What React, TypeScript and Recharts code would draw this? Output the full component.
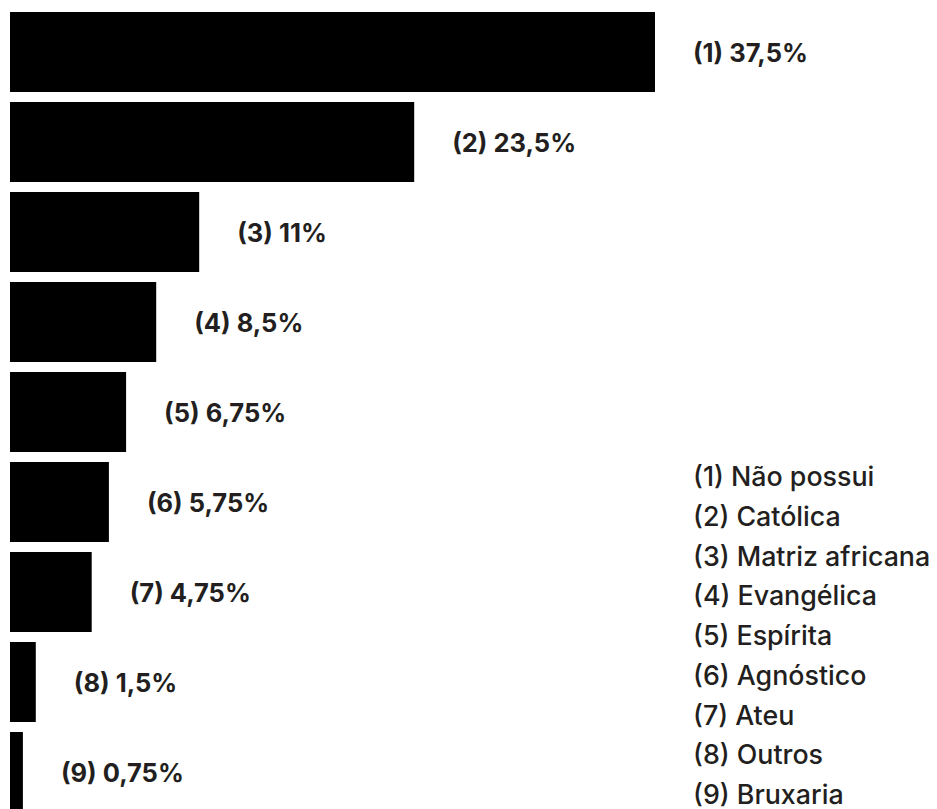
import { BarChart, Bar, XAxis, YAxis, LabelList } from "recharts";

const categories = [
  "Não possui",
  "Católica",
  "Matriz africana",
  "Evangélica",
  "Espírita",
  "Agnóstico",
  "Ateu",
  "Outros",
  "Bruxaria",
];
const percents = [37.5, 23.5, 11, 8.5, 6.75, 5.75, 4.75, 1.5, 0.75];

const data = categories.map((name, i) => ({
  name,
  idx: i + 1,
  value: percents[i],
}));

const TEXT = "#231f20";
const FONT = "Inter, 'Noto Sans', sans-serif";

// label drawn to the right of each bar: "(n) 37,5%"
function BarLabel(props: any) {
  const { x, y, width, height, index } = props;
  const d = data[index];
  return (
    <text
      x={x + width + 38}
      y={y + height / 2}
      fill={TEXT}
      fontSize={25.5}
      fontWeight={700}
      fontFamily={FONT}
      dominantBaseline="central"
    >
      {`(${d.idx}) ${String(d.value).replace(".", ",")}%`}
    </text>
  );
}

export default function App() {
  return (
    <div
      style={{
        position: "fixed",
        left: 0,
        top: 0,
        width: 937,
        height: 809,
        overflow: "hidden",
        background: "#fff",
      }}
    >
      <BarChart
        width={937}
        height={830}
        data={data}
        layout="vertical"
        margin={{ top: 7, right: 67, bottom: 13, left: 10 }}
        barCategoryGap={10}
      >
        <XAxis type="number" domain={[0, 50]} hide />
        <YAxis type="category" dataKey="name" hide width={0} />
        <Bar dataKey="value" fill="#000" barSize={80} isAnimationActive={false}>
          <LabelList dataKey="value" content={<BarLabel />} />
        </Bar>
      </BarChart>
      <div
        style={{
          position: "absolute",
          left: 693,
          top: 457,
          fontFamily: FONT,
          fontSize: 26.8,
          fontWeight: 500,
          lineHeight: "39.75px",
          color: TEXT,
          whiteSpace: "nowrap",
        }}
      >
        {data.map((d) => (
          <div key={d.idx}>{`(${d.idx}) ${d.name}`}</div>
        ))}
      </div>
    </div>
  );
}
